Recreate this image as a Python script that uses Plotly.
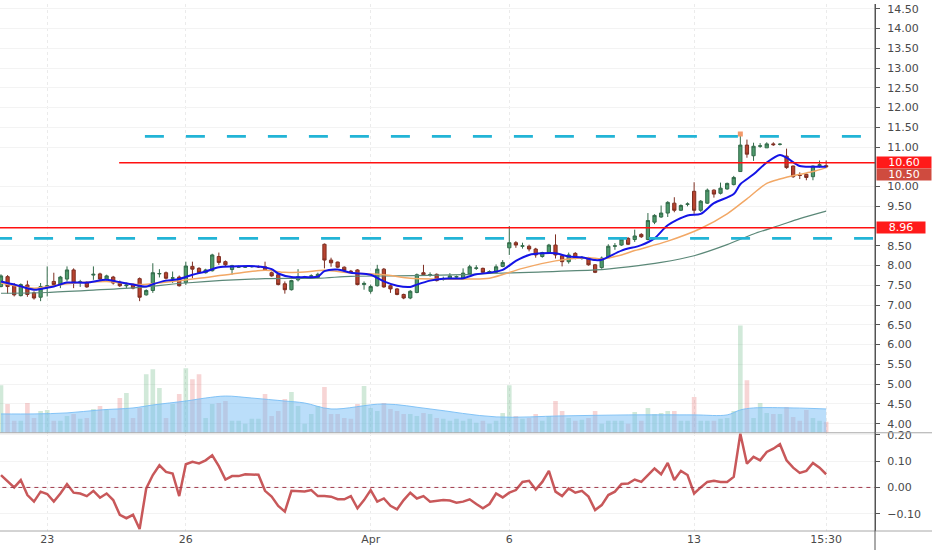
# -*- coding: utf-8 -*-
"""hourly chart with moving averages, volume and oscillator"""

import plotly.graph_objects as go

#_____ DATA _____
# one bar per hour, 7 bars per session, bar 0 = 20 Mar 09:30
opens = [7.47, 7.72, 7.52, 7.24, 7.51, 7.31, 7.20, 7.46, 7.60, 7.52,
         7.66, 7.89, 7.57, 7.56, 7.76, 7.79, 7.65, 7.71, 7.58, 7.49,
         7.52, 7.67, 7.26, 7.37, 7.79, 7.82, 7.68, 7.71, 7.57, 7.98,
         7.93, 7.82, 7.87, 8.23, 8.10, 7.90, 7.96, 7.96, 7.97, 7.97,
         7.97, 7.82, 7.77, 7.54, 7.39, 7.64, 7.70, 7.73, 7.70, 8.54,
         8.14, 8.09, 7.96, 7.86, 7.89, 7.52, 7.35, 7.49, 7.91, 7.49,
         7.41, 7.27, 7.18, 7.32, 7.82, 7.75, 7.78, 7.65, 7.66, 7.71,
         7.66, 7.79, 7.93, 7.93, 7.83, 7.83, 7.98, 8.45, 8.58, 8.49,
         8.49, 8.42, 8.23, 8.33, 8.52, 8.25, 8.10, 8.31, 8.18, 8.20,
         8.02, 7.95, 8.20, 8.49, 8.52, 8.69, 8.66, 8.79, 8.66, 9.10,
         9.23, 9.33, 9.58, 9.40, 9.55, 9.88, 9.40, 9.58, 9.91, 9.83,
         9.94, 10.05, 10.38, 11.05, 10.78, 11.02, 10.98, 11.08, 11.07, 10.77,
         10.52, 10.29, 10.31, 10.25, 10.53, 10.53]
highs = [7.78, 7.76, 7.56, 7.55, 7.62, 7.35, 7.56, 7.98, 7.82, 7.74,
         7.98, 7.93, 7.64, 7.60, 7.98, 7.82, 7.77, 7.74, 7.62, 7.57,
         7.55, 7.70, 7.40, 8.06, 7.91, 7.85, 7.85, 7.75, 8.10, 8.10,
         7.96, 7.92, 8.30, 8.33, 8.13, 8.02, 8.00, 7.99, 8.00, 8.00,
         8.10, 7.85, 7.80, 7.60, 7.64, 7.91, 7.74, 7.78, 7.82, 8.56,
         8.20, 8.10, 7.98, 7.89, 7.91, 7.60, 7.52, 8.02, 7.94, 7.52,
         7.43, 7.29, 7.38, 7.80, 8.02, 7.83, 7.80, 7.72, 7.81, 7.75,
         7.93, 8.02, 8.01, 7.95, 7.88, 8.03, 8.14, 9.00, 8.62, 8.58,
         8.53, 8.45, 8.35, 8.55, 8.79, 8.28, 8.33, 8.34, 8.24, 8.22,
         8.04, 8.23, 8.54, 8.57, 8.72, 8.72, 8.91, 8.82, 9.33, 9.30,
         9.52, 9.63, 9.73, 9.55, 9.60, 10.11, 9.66, 9.95, 9.93, 10.10,
         10.10, 10.27, 11.34, 11.19, 11.11, 11.10, 11.12, 11.12, 11.10, 10.96,
         10.53, 10.36, 10.33, 10.53, 10.66, 10.66]
lows = [7.45, 7.29, 7.22, 7.22, 7.21, 7.14, 7.10, 7.22, 7.48, 7.43,
        7.60, 7.43, 7.46, 7.44, 7.64, 7.60, 7.62, 7.52, 7.46, 7.43,
        7.40, 7.10, 7.24, 7.31, 7.70, 7.65, 7.56, 7.47, 7.51, 7.68,
        7.80, 7.80, 7.85, 8.02, 7.98, 7.77, 7.94, 7.94, 7.95, 7.94,
        7.87, 7.72, 7.50, 7.29, 7.37, 7.60, 7.66, 7.70, 7.68, 7.93,
        7.97, 7.94, 7.85, 7.83, 7.50, 7.39, 7.29, 7.47, 7.44, 7.31,
        7.25, 7.15, 7.15, 7.30, 7.74, 7.72, 7.60, 7.62, 7.64, 7.68,
        7.64, 7.77, 7.89, 7.80, 7.80, 7.81, 7.96, 8.27, 8.45, 8.43,
        8.36, 8.20, 8.20, 8.31, 8.18, 7.98, 8.05, 8.16, 8.15, 8.00,
        7.81, 7.92, 8.19, 8.40, 8.50, 8.52, 8.60, 8.70, 8.64, 9.05,
        9.21, 9.23, 9.35, 9.38, 9.50, 9.31, 9.36, 9.56, 9.72, 9.80,
        9.92, 10.03, 10.38, 10.73, 10.65, 10.98, 10.98, 11.03, 11.04, 10.45,
        10.22, 10.19, 10.16, 10.16, 10.48, 10.48]
closes = [7.74, 7.47, 7.26, 7.52, 7.27, 7.18, 7.47, 7.49, 7.52, 7.71,
          7.89, 7.56, 7.59, 7.46, 7.78, 7.66, 7.74, 7.56, 7.49, 7.51,
          7.43, 7.20, 7.37, 7.82, 7.80, 7.68, 7.69, 7.49, 7.99, 7.91,
          7.82, 7.89, 8.27, 8.08, 8.02, 8.00, 7.97, 7.97, 7.98, 7.97,
          7.89, 7.74, 7.52, 7.39, 7.62, 7.72, 7.71, 7.74, 7.78, 8.14,
          8.07, 7.96, 7.88, 7.85, 7.52, 7.55, 7.47, 7.91, 7.46, 7.41,
          7.27, 7.18, 7.35, 7.77, 7.77, 7.77, 7.62, 7.66, 7.74, 7.72,
          7.81, 7.97, 7.94, 7.83, 7.85, 7.97, 8.08, 8.58, 8.52, 8.50,
          8.42, 8.27, 8.33, 8.52, 8.27, 8.10, 8.27, 8.20, 8.19, 8.02,
          7.83, 8.19, 8.49, 8.50, 8.67, 8.54, 8.75, 8.73, 9.14, 9.27,
          9.33, 9.60, 9.40, 9.52, 9.56, 9.40, 9.63, 9.91, 9.81, 9.96,
          10.08, 10.23, 11.05, 10.82, 11.02, 11.03, 11.08, 11.06, 11.07, 10.48,
          10.25, 10.28, 10.23, 10.52, 10.55, 10.50]
volume = [480, 290, 120, 120, 300, 150, 220, 230, 120, 120,
          170, 190, 140, 150, 240, 270, 240, 150, 350, 400,
          150, 250, 590, 640, 450, 150, 290, 390, 650, 540,
          590, 150, 290, 300, 320, 120, 120, 90, 140, 140,
          390, 170, 220, 340, 410, 270, 90, 190, 270, 460,
          190, 190, 150, 140, 290, 470, 250, 220, 300, 240,
          220, 190, 190, 170, 200, 190, 150, 140, 120, 140,
          120, 140, 100, 120, 90, 120, 200, 480, 170, 140,
          150, 190, 120, 170, 320, 220, 150, 120, 130, 150,
          220, 90, 120, 120, 120, 90, 210, 120, 250, 190,
          200, 220, 220, 120, 120, 360, 120, 120, 120, 140,
          150, 220, 1080, 530, 150, 300, 200, 190, 190, 260,
          160, 120, 230, 150, 120, 110]
oscillator = [0.047, 0.025, 0.000, 0.028, -0.029, -0.054, -0.016, -0.025, -0.054, -0.023,
              0.013, -0.020, -0.023, -0.033, -0.013, -0.039, -0.023, -0.048, -0.104, -0.117,
              -0.104, -0.158, -0.004, 0.047, 0.084, 0.059, 0.053, -0.033, 0.088, 0.097,
              0.091, 0.103, 0.122, 0.081, 0.030, 0.043, 0.043, 0.050, 0.048, 0.048,
              -0.013, -0.035, -0.070, -0.092, -0.013, -0.015, -0.015, -0.010, -0.033, -0.033,
              -0.035, -0.045, -0.045, -0.033, -0.079, -0.048, -0.010, -0.054, -0.042, -0.070,
              -0.083, -0.048, -0.020, -0.042, -0.033, -0.054, -0.050, -0.048, -0.050, -0.058,
              -0.054, -0.045, -0.063, -0.079, -0.063, -0.023, -0.038, -0.020, -0.010, 0.021,
              0.025, -0.008, 0.021, 0.063, -0.016, -0.033, -0.004, -0.020, -0.013, -0.035,
              -0.086, -0.067, -0.029, -0.016, 0.013, 0.015, 0.030, 0.021, 0.047, 0.072,
              0.050, 0.093, 0.028, 0.063, 0.047, -0.023, 0.000, 0.021, 0.025, 0.021,
              0.021, 0.040, 0.204, 0.090, 0.116, 0.103, 0.135, 0.147, 0.164, 0.103,
              0.075, 0.055, 0.063, 0.093, 0.075, 0.050]

# moving averages at these bars
fast_bars = [0, 2, 5, 6, 8, 10, 13, 16, 18, 20, 22, 23, 25, 27, 29, 31, 33, 35, 39, 41,
             42, 44, 46, 48, 49, 51, 53, 56, 58, 60, 62, 63, 65, 67, 70, 72, 74, 76, 78, 80,
             82, 84, 86, 88, 90, 91, 94, 97, 99, 101, 104, 106, 108, 111, 112, 114, 116, 118,
             119, 121, 123, 125]
fast_ma = [7.60, 7.52, 7.39, 7.41, 7.47, 7.57, 7.57, 7.64, 7.58, 7.52, 7.47, 7.53, 7.62, 7.66,
           7.77, 7.85, 7.96, 7.98, 7.98, 7.91, 7.80, 7.71, 7.71, 7.72, 7.86, 7.90, 7.82, 7.77,
           7.60, 7.49, 7.46, 7.52, 7.62, 7.67, 7.68, 7.78, 7.82, 7.89, 8.12, 8.27, 8.31, 8.31,
           8.23, 8.21, 8.14, 8.15, 8.38, 8.52, 8.69, 9.02, 9.27, 9.31, 9.58, 9.81, 10.06,
           10.31, 10.61, 10.80, 10.73, 10.52, 10.50, 10.50]
mid_bars = [0, 5, 10, 16, 21, 26, 30, 35, 40, 43, 46, 49, 53, 58, 62, 66, 71, 74, 79, 84,
            89, 91, 94, 96, 101, 106, 110, 113, 116, 118, 121, 123, 125]
mid_ma = [7.56, 7.43, 7.54, 7.60, 7.52, 7.60, 7.68, 7.79, 7.88, 7.83, 7.84, 7.88, 7.81, 7.77,
          7.68, 7.66, 7.66, 7.68, 7.93, 8.12, 8.20, 8.17, 8.27, 8.38, 8.62, 8.94, 9.31, 9.69,
          10.08, 10.19, 10.31, 10.38, 10.48]
slow_bars = [0, 7, 14, 21, 28, 40, 48, 53, 60, 70, 74, 80, 90, 95, 100, 105, 110, 114, 118, 121, 125]
slow_ma = [7.30, 7.32, 7.38, 7.45, 7.56, 7.67, 7.68, 7.73, 7.74, 7.77, 7.80, 7.83, 7.89, 7.97,
           8.08, 8.25, 8.53, 8.80, 9.02, 9.19, 9.38]
vol_ma_bars = [0, 5, 10, 15, 20, 23, 28, 31, 34, 38, 43, 46, 50, 58, 65, 75, 85, 95, 105, 110,
               112, 114, 120, 125]
vol_ma = [190, 190, 200, 230, 250, 280, 320, 350, 370, 350, 320, 300, 240, 290, 240, 160, 170,
          180, 180, 180, 230, 250, 250, 240]

# session ticks
tick_bars = [7, 28, 56, 77, 105, 125]
tick_text = ["23", "26", "Apr", "6", "13", "15:30"]
# price scale ticks (9.00 and 10.50 sit under the price tags)
price_ticks = [4.0, 4.5, 5.0, 5.5, 6.0, 6.5, 7.0, 7.5, 8.0, 8.5, 9.5, 10.0, 11.0,
               11.5, 12.0, 12.5, 13.0, 13.5, 14.0, 14.5]
osc_ticks = [-0.1, 0.0, 0.1, 0.2]

# drawn levels: (price, first bar)
red_levels = [(10.60, 17.9), (8.96, -1.0)]
zone_levels = [(11.27, 21.8), (8.69, -1.2)]
alert_bar, alert_price = 112, 11.33

#_____ STYLE _____
FONT = "DejaVu Sans"
TXT = "#4a4a4a"
UP_LINE, UP_FILL = "#336b4a", "#4e9a6c"
DN_LINE, DN_FILL = "#7e2f22", "#b8432f"
bars = list(range(len(closes)))

#_____ FIGURE _____
fig = go.Figure()

fig.add_trace(go.Candlestick(
    x=bars, open=opens, high=highs, low=lows, close=closes,
    increasing=dict(line=dict(color=UP_LINE, width=1), fillcolor=UP_FILL),
    decreasing=dict(line=dict(color=DN_LINE, width=1), fillcolor=DN_FILL),
    whiskerwidth=0, hoverinfo="skip", xaxis="x", yaxis="y"))

for xs, ys, col, w in [(slow_bars, slow_ma, "#5b8878", 1.2),
                       (mid_bars, mid_ma, "#f2a866", 1.5),
                       (fast_bars, fast_ma, "#1414e6", 2.0)]:
    fig.add_trace(go.Scatter(x=xs, y=ys, mode="lines", line=dict(color=col, width=w, shape="spline", smoothing=0.8),
                             hoverinfo="skip", xaxis="x", yaxis="y"))

fig.add_trace(go.Scatter(x=[alert_bar], y=[alert_price], mode="markers",
                         marker=dict(symbol="square", size=5, color="#f39a6a"),
                         hoverinfo="skip", xaxis="x", yaxis="y"))

vol_cols = ["rgba(90,175,120,0.28)" if c >= o else "rgba(225,105,105,0.28)" for o, c in zip(opens, closes)]
fig.add_trace(go.Bar(x=bars, y=volume, marker=dict(color=vol_cols, line=dict(width=0)), width=0.7,
                     hoverinfo="skip", xaxis="x", yaxis="y3"))
fig.add_trace(go.Scatter(x=vol_ma_bars, y=vol_ma, mode="lines", fill="tozeroy",
                         fillcolor="rgba(120,190,245,0.5)",
                         line=dict(color="rgba(120,190,245,0.9)", width=1, shape="spline"),
                         hoverinfo="skip", xaxis="x", yaxis="y3"))

fig.add_trace(go.Scatter(x=bars, y=oscillator, mode="lines", line=dict(color="#c8585a", width=2.5),
                         hoverinfo="skip", xaxis="x2", yaxis="y2"))

shapes = []
for price, start in red_levels:
    shapes.append(dict(type="line", xref="x", yref="y", x0=start, x1=140, y0=price, y1=price,
                       line=dict(color="#ff1010", width=1.5)))
for price, start in zone_levels:
    shapes.append(dict(type="line", xref="x", yref="y", x0=start, x1=140, y0=price, y1=price,
                       line=dict(color="#22b4d6", width=2.8, dash="19px,22px")))
# zero line of the oscillator
shapes.append(dict(type="line", xref="x2", yref="y2", x0=-1, x1=140, y0=0, y1=0,
                   line=dict(color="#a23a4c", width=1, dash="4px,4px")))
# pane separator, bottom line and axis extension
shapes.append(dict(type="line", xref="paper", yref="paper", x0=0, x1=1.07, y0=0.1864, y1=0.1864,
                   line=dict(color="#a8a8a8", width=1)))
shapes.append(dict(type="line", xref="paper", yref="paper", x0=0, x1=1.07, y0=0, y1=0,
                   line=dict(color="#a8a8a8", width=1)))
shapes.append(dict(type="line", xref="paper", yref="paper", x0=1, x1=1, y0=-0.04, y1=1,
                   line=dict(color="#555555", width=1)))

annotations = []
for text, price, col, w, shift in [("10.60", 10.60, "#ff1a1a", 54, 0),
                                   ("10.50", 10.50, "#cf4b3f", 54, -8),
                                   ("8.96", 8.96, "#ff1a1a", 48, 0)]:
    annotations.append(dict(xref="paper", yref="y", x=1, y=price, xanchor="left", yanchor="middle",
                            xshift=1, yshift=shift, text=text, showarrow=False, bgcolor=col,
                            width=w, height=11, borderpad=0, align="center",
                            font=dict(family=FONT, size=11, color="white")))

tickfont = dict(family=FONT, size=11, color=TXT)
fig.update_layout(
    width=932, height=550,
    margin=dict(l=0, r=57, t=0, b=19),
    paper_bgcolor="white", plot_bgcolor="white",
    showlegend=False,
    xaxis=dict(domain=[0, 1], anchor="y", range=[-0.15, 132.4], tickvals=tick_bars,
               showticklabels=False, showgrid=True, gridcolor="#ebebeb", griddash="dot",
               zeroline=False, rangeslider=dict(visible=False)),
    xaxis2=dict(domain=[0, 1], anchor="y2", matches="x", tickvals=tick_bars, ticktext=tick_text,
                showgrid=True, gridcolor="#ebebeb", griddash="dot", zeroline=False,
                tickfont=tickfont, ticks=""),
    yaxis=dict(domain=[0.1864, 1], range=[3.77, 14.62], side="right", tickvals=price_ticks,
               tickformat=".2f", ticks="outside", ticklen=4, tickcolor="#555555",
               showline=True, linecolor="#555555", showgrid=True, gridcolor="#f3f3f3",
               zeroline=False, tickfont=tickfont, ticklabelstandoff=5),
    yaxis2=dict(domain=[0, 0.1864], range=[-0.1655, 0.2076], side="right",
                tickvals=osc_ticks, tickformat=".2f", ticks="outside", ticklen=4,
                tickcolor="#555555", showline=True, linecolor="#555555", showgrid=True,
                gridcolor="#f3f3f3", zeroline=False, tickfont=tickfont, ticklabelstandoff=5),
    yaxis3=dict(overlaying="y", range=[0, 4320], visible=False),
    shapes=shapes,
    annotations=annotations,
)

# the page body has a default 8px margin; drop it so the chart sits at the window corner
fig.write_html("out.html", config={"displayModeBar": False},
               post_script="document.body.style.margin='0px';")
